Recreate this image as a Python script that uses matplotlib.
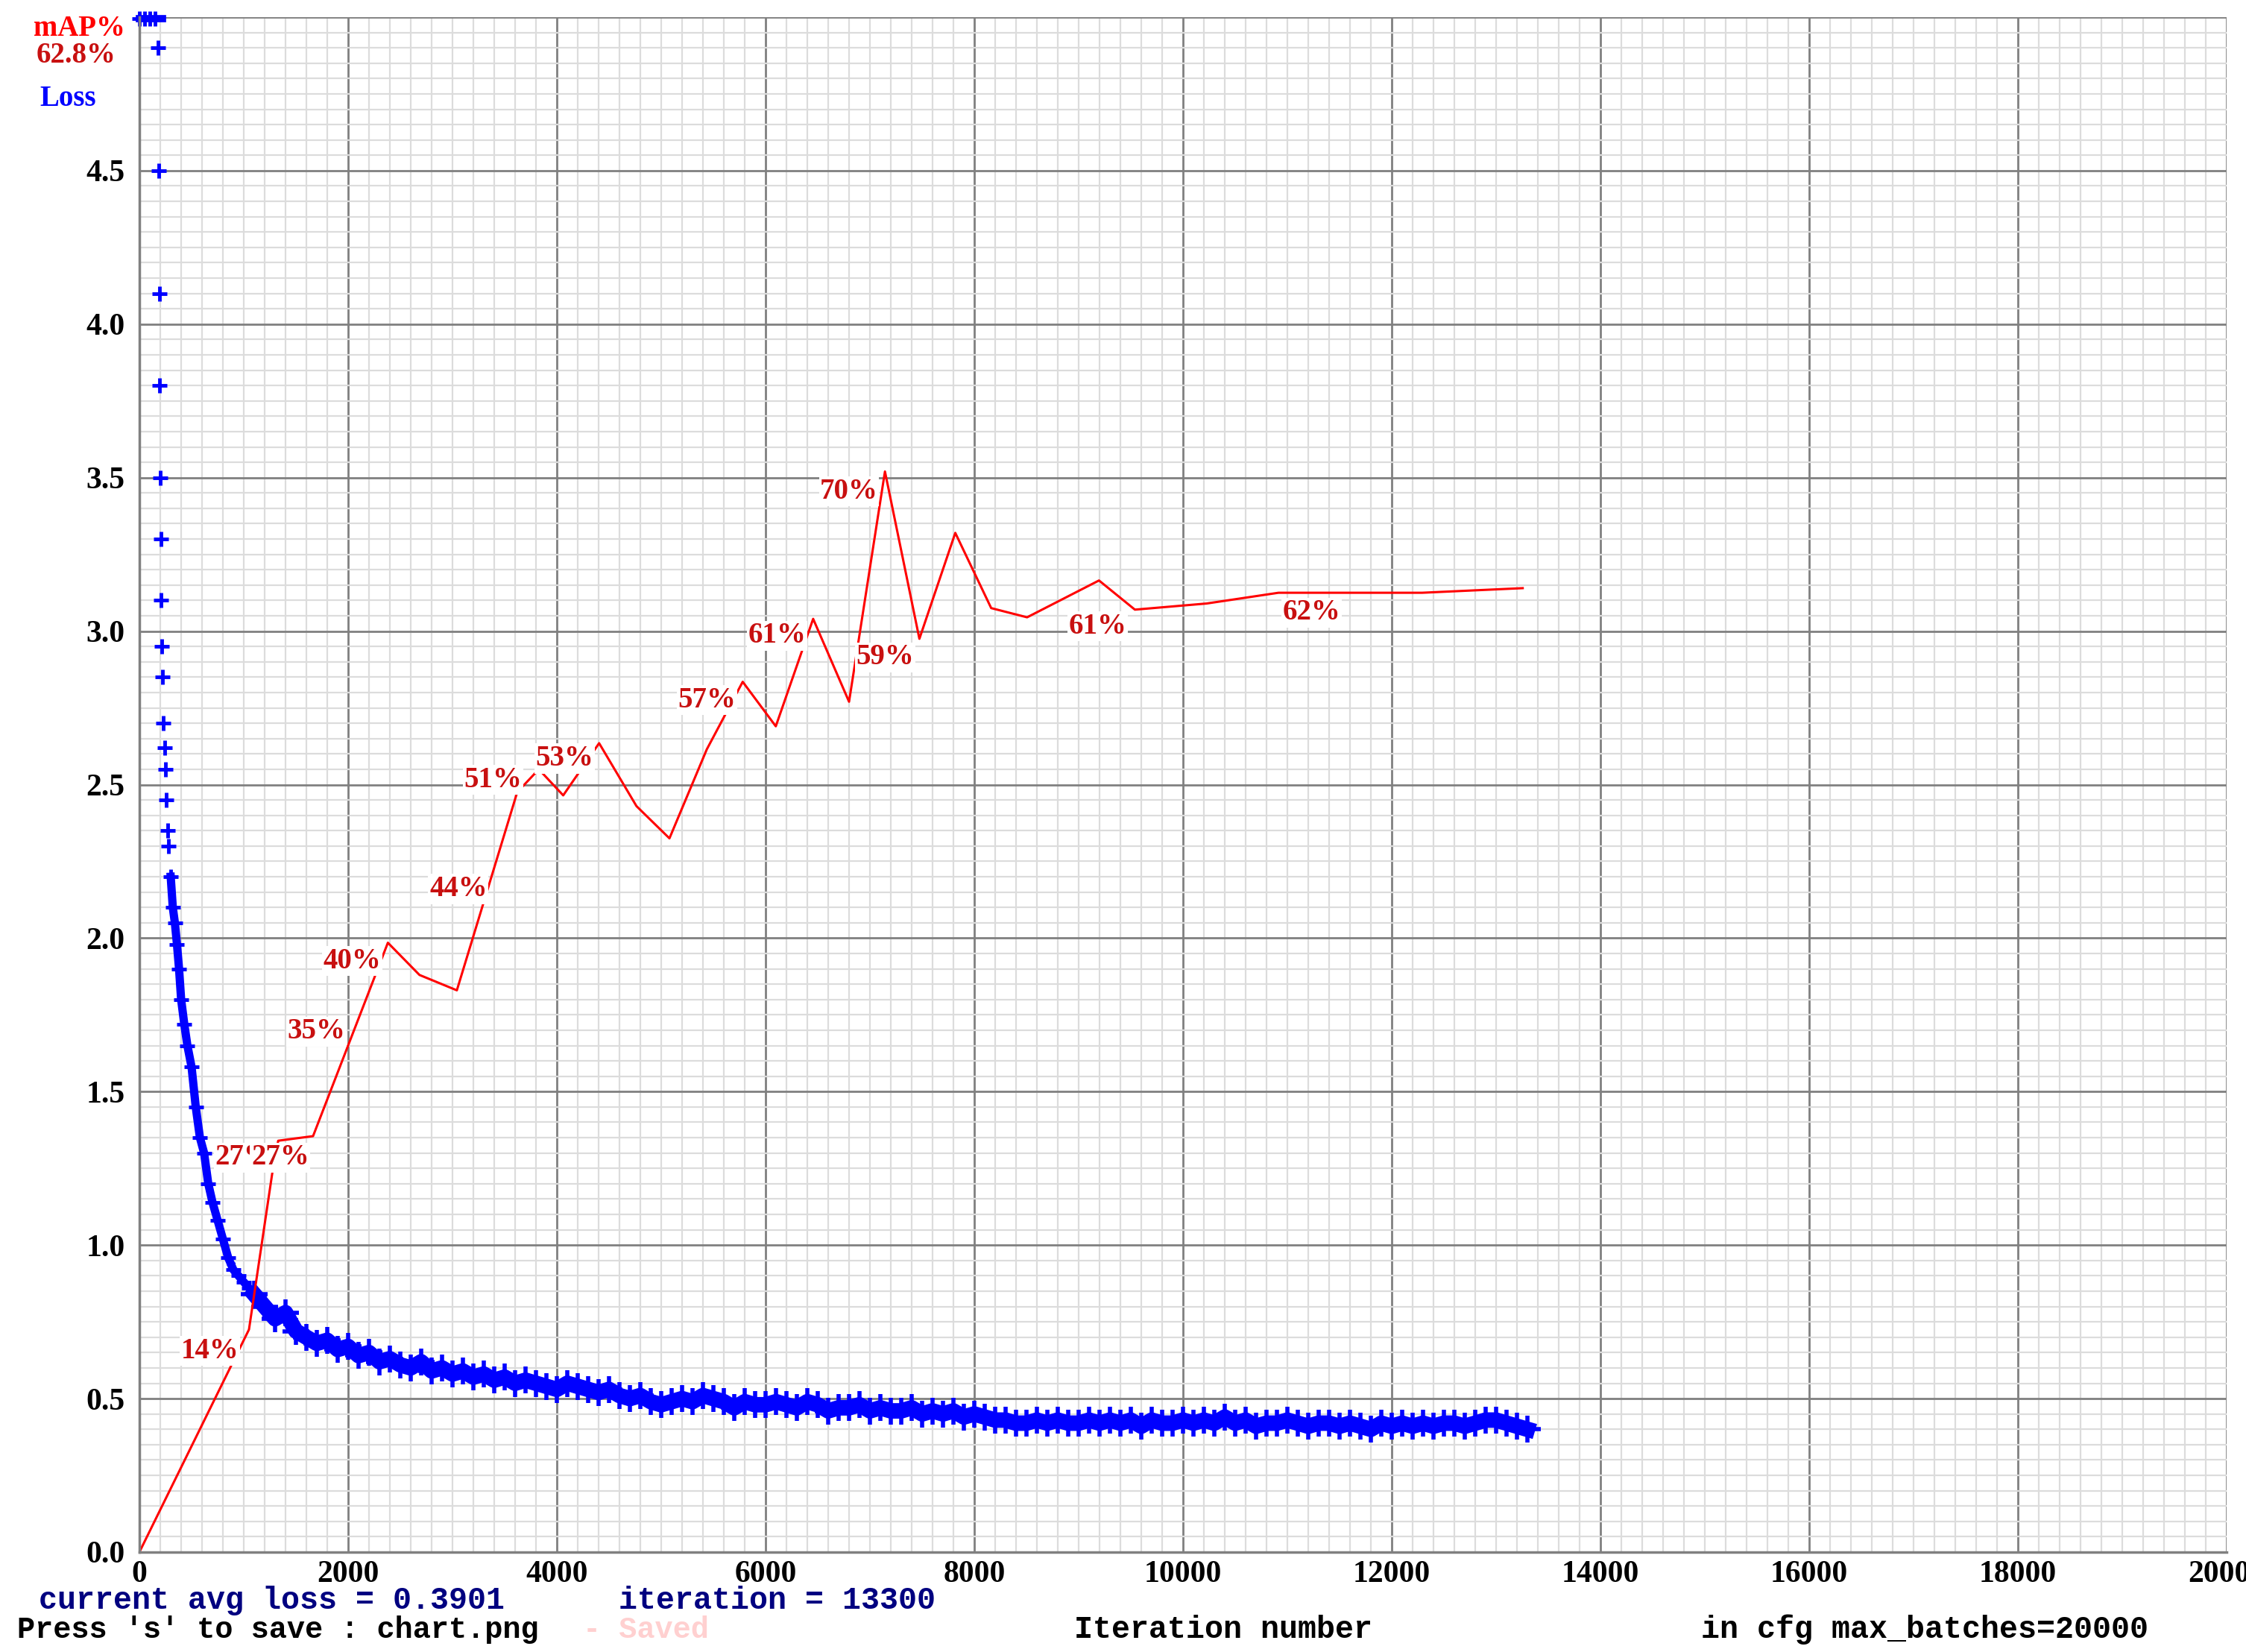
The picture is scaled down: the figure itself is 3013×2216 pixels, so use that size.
import numpy as np
import matplotlib
matplotlib.use("Agg")
import matplotlib.pyplot as plt

# ---- data ----
early_iters = [0,50,100,150,180,185,190,195,200,205,210,215,220,230,240,250,260,270,280,300,320,340,360,380,400,430,460,500,540,580,620,660,700,750,800,850,900,950,1000,1050]
early_loss = [6,6,6,6,4.9,4.5,4.1,3.8,3.5,3.3,3.1,2.95,2.85,2.7,2.62,2.55,2.45,2.35,2.3,2.2,2.1,2.05,1.98,1.9,1.8,1.72,1.65,1.58,1.45,1.35,1.3,1.2,1.14,1.08,1.02,0.96,0.92,0.90,0.88,0.86]
late_iters = list(range(1100, 13301, 100))
late_loss = [0.84,0.80,0.76,0.78,0.72,0.70,0.68,0.69,0.66,0.67,
             0.64,0.65,0.62,0.63,0.61,0.60,0.62,0.59,0.60,0.58,
             0.59,0.57,0.58,0.56,0.57,0.55,0.56,0.55,0.54,0.53,
             0.55,0.54,0.53,0.52,0.53,0.51,0.50,0.51,0.49,0.48,
             0.49,0.50,0.49,0.51,0.50,0.49,0.47,0.49,0.48,0.48,
             0.49,0.48,0.47,0.49,0.48,0.46,0.47,0.47,0.48,0.46,
             0.47,0.46,0.46,0.47,0.45,0.46,0.45,0.46,0.44,0.45,
             0.44,0.43,0.43,0.42,0.42,0.43,0.42,0.43,0.42,0.42,
             0.43,0.42,0.43,0.42,0.43,0.41,0.43,0.42,0.42,0.43,
             0.42,0.43,0.42,0.44,0.42,0.43,0.41,0.42,0.42,0.43,
             0.42,0.41,0.42,0.42,0.41,0.42,0.41,0.40,0.42,0.41,
             0.42,0.41,0.42,0.41,0.42,0.42,0.41,0.42,0.43,0.43,
             0.42,0.41,0.40]
map_iters = [0,1050,1280,1330,1664,2381,2684,3042,3620,3827,4061,4405,4763,5079,5437,5781,6098,6456,6800,7144,7474,7818,8162,8506,9195,9539,10227,10915,12291,13255]
map_vals = [0,14.5,25,26.8,27.1,39.7,37.6,36.6,49.5,51,49.3,52.7,48.6,46.5,52.3,56.7,53.8,60.8,55.4,70.4,59.5,66.4,61.5,60.9,63.3,61.4,61.8,62.5,62.5,62.8]
label_text = ["14%","27%","27%","35%","40%","44%","51%","53%","57%","61%","59%","70%","61%","62%"]
label_iter = [674,1005,1349,1693,2037,3056,3386,4074,5437,6112,7144,6800,9181,11232]
label_map = [13.1,25.7,25.7,33.9,38.5,43.2,50.3,51.7,55.5,59.7,58.3,69.1,60.3,61.2]

W, H = 3013, 2216
fig = plt.figure(figsize=(W/100, H/100), dpi=100)
ax = fig.add_axes([187/W, 1-2082/H, 2800/W, 2059/H])
ax.set_xlim(0, 20000)
ax.set_ylim(0, 5)
ax.set_xticks(np.arange(0, 20001, 2000))
ax.set_xticks(np.arange(0, 20001, 200), minor=True)
ax.set_yticks(np.arange(0, 5.01, 0.5))
ax.set_yticks(np.arange(0, 5.01, 0.05), minor=True)
ax.grid(which='minor', color='#dcdcdc', lw=1.6)
ax.grid(which='major', color='#808080', lw=2)
ax.set_axisbelow(True)
for s in ['top', 'right']:
    ax.spines[s].set_visible(False)
for s in ['left', 'bottom']:
    ax.spines[s].set_color('#808080'); ax.spines[s].set_linewidth(2.5)
ax.tick_params(which='both', length=0)
ax.tick_params(axis='x', pad=8)
ax.tick_params(axis='y', pad=14)
ax.set_xticklabels([str(v) for v in range(0, 20001, 2000)], fontsize=30, fontfamily='Liberation Serif', fontweight='bold')
ax.set_yticklabels([f"{v:.1f}" for v in np.arange(0, 5.01, 0.5)], fontsize=30, fontfamily='Liberation Serif', fontweight='bold')
ax.get_yticklabels()[-1].set_visible(False)

el = np.minimum(np.array(early_loss), 4.995)
ax.plot(early_iters, el, '+', color='#0000ff', ms=14, mew=3.5, clip_on=False)
ax.plot(early_iters[19:] + late_iters[:1], early_loss[19:] + late_loss[:1], '-', color='#0000ff', lw=8)
ax.plot(late_iters, late_loss, '-', color='#0000ff', lw=15)
ax.plot(late_iters, late_loss, '+', color='#0000ff', ms=26, mew=4)
ax.plot([0, 220], [4.995, 4.995], color='#0000ff', lw=7, clip_on=False)

ax.plot(map_iters, np.array(map_vals)/20, color='#ff0000', lw=2.2)
for t, xi, mv in zip(label_text, label_iter, label_map):
    ax.text(xi, mv/20, t, color='#c81010', fontsize=28, fontweight='bold',
            fontfamily='Liberation Serif', ha='center', va='center',
            bbox=dict(facecolor='white', edgecolor='none', pad=1))

def ft(x, y, s, color, size, family, ha='left', weight='bold'):
    fig.text(x/W, 1-y/H, s, color=color, fontsize=size, fontfamily=family,
             fontweight=weight, ha=ha, va='center')

ft(106, 39, "mAP%", '#ff0000', 28, 'Liberation Serif', 'center')
ft(102, 75, "62.8%", '#c81010', 28, 'Liberation Serif', 'center')
ft(91, 133, "Loss", '#0000ff', 28, 'Liberation Serif', 'center')
ft(52, 2147, "current avg loss = 0.3901", '#000080', 30, 'Liberation Mono')
ft(830, 2147, "iteration = 13300", '#000080', 30, 'Liberation Mono')
ft(23, 2186, "Press 's' to save : chart.png", 'black', 29, 'Liberation Mono')
ft(782, 2186, "- Saved", '#ffd0d0', 29, 'Liberation Mono')
ft(1641, 2186, "Iteration number", 'black', 30, 'Liberation Mono', 'center')
ft(2582, 2186, "in cfg max_batches=20000", 'black', 30, 'Liberation Mono', 'center')

fig.savefig("out.png", dpi=100, facecolor='white')
